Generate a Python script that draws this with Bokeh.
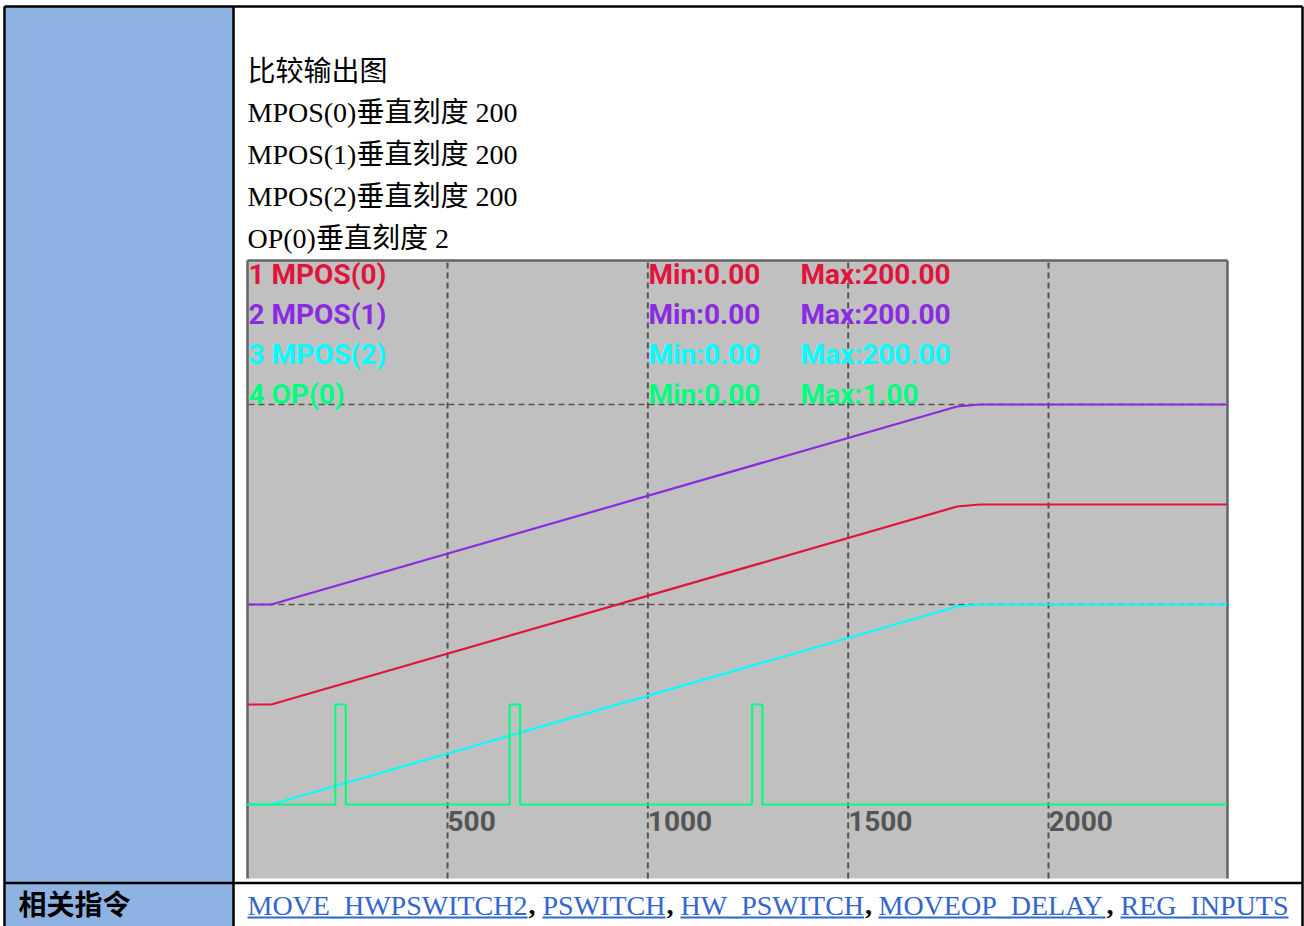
from bokeh.plotting import figure
from bokeh.models import Range1d
from bokeh.core.properties import value
from bokeh.embed import file_html
from bokeh.resources import INLINE

# ---------------- data ----------------
title_lines = ["比较输出图", "MPOS(0)垂直刻度 200", "MPOS(1)垂直刻度 200",
               "MPOS(2)垂直刻度 200", "OP(0)垂直刻度 2"]
series_names = ["1 MPOS(0)", "2 MPOS(1)", "3 MPOS(2)", "4 OP(0)"]
series_min = ["Min:0.00", "Min:0.00", "Min:0.00", "Min:0.00"]
series_max = ["Max:200.00", "Max:200.00", "Max:200.00", "Max:1.00"]
vertical_scale = [200, 200, 200, 2]
x_ticks = [500, 1000, 1500, 2000]
x_tick_labels = ["500", "1000", "1500", "2000"]

t_mpos = [0, 60, 1772, 1828, 2445]
mpos0 = [0, 0, 198, 200, 200]
mpos1 = [0, 0, 198, 200, 200]
mpos2 = [0, 0, 198, 200, 200]
t_op = [0, 220, 246, 655, 681, 1260, 1286, 2445]
op0 = [0, 1, 0, 1, 0, 1, 0, 0]

related_label = "相关指令"
related_links = ["MOVE_HWPSWITCH2", "PSWITCH", "HW_PSWITCH", "MOVEOP_DELAY", "REG_INPUTS"]

# ---------------- layout / style ----------------
W, H = 1304, 926
X0, Y0 = 0, 0
BLUE_CELL = "#8EB3E2"
SERIF = value("Liberation Serif, Noto Sans CJK SC")
CHART_FONT = value("Roboto")
colors = ["#E0143C", "#8A2BE2", "#00FFFF", "#00FF80"]
div_offset = [0.5, 1.0, 0.0, 0.0]  # display offset of each trace, in divisions
PARA_DY, LINK_DY, ROBOTO_DY, CJK_DY = -3, -7, -10, -9   # baseline corrections

# chart geometry (page pixels)
C_LEFT, C_RIGHT, C_TOP, C_BOTTOM = 247, 1227, 260, 878
X_ZERO_PX, PX_PER_UNIT = 246.7, 0.40065
BASE_PX, DIV_PX = 804, 200

p = figure(width=W, height=H, output_backend="svg", toolbar_location=None,
           x_range=Range1d(X0, X0 + W), y_range=Range1d(Y0 + H, Y0),
           min_border=0, background_fill_color="white", border_fill_color="white")
p.axis.visible = False
p.grid.visible = False
p.outline_line_color = None

p.extra_x_ranges = {"chart": Range1d((X0 - X_ZERO_PX) / PX_PER_UNIT,
                                     (X0 + W - X_ZERO_PX) / PX_PER_UNIT)}
p.extra_y_ranges = {"div": Range1d((BASE_PX - (Y0 + H)) / DIV_PX,
                                   (BASE_PX - Y0) / DIV_PX)}

# ---------------- table ----------------
p.quad(left=[5], right=[233], top=[6], bottom=[Y0 + H], fill_color=BLUE_CELL, line_color=None)
bw = 2.5
p.segment(x0=[4, 4, 1302, 233, 4], y0=[6, 6, 6, 6, 882.5],
          x1=[1302, 4, 1302, 233, 1302], y1=[6, Y0 + H, Y0 + H, Y0 + H, 882.5],
          line_color="black", line_width=bw)

p.text(x=[247] * len(title_lines), y=[b + PARA_DY for b in [74, 115, 157, 199, 241]],
       text=title_lines, text_font=SERIF, text_font_size="28px", text_color="black",
       text_baseline="alphabetic", text_align="left")

# ---------------- chart ----------------
p.quad(left=[C_LEFT], right=[C_RIGHT], top=[C_TOP], bottom=[C_BOTTOM],
       fill_color="#C0C0C0", line_color=None)
p.segment(x0=[C_LEFT, C_LEFT, C_RIGHT], y0=[C_TOP, C_TOP, C_TOP],
          x1=[C_RIGHT, C_LEFT, C_RIGHT], y1=[C_TOP, C_BOTTOM, C_BOTTOM],
          line_color="#646464", line_width=2.5)

chart_x_max = (C_RIGHT - X_ZERO_PX) / PX_PER_UNIT
div_top = (BASE_PX - C_TOP) / DIV_PX
div_bottom = (BASE_PX - C_BOTTOM) / DIV_PX
grid_col = "#555555"
p.segment(x0=x_ticks, x1=x_ticks, y0=[div_bottom] * 4, y1=[div_top - 0.01] * 4,
          x_range_name="chart", y_range_name="div",
          line_color=grid_col, line_width=2, line_dash="6 4")
hdivs = [1, 2]
p.segment(x0=[(C_LEFT + 1 - X_ZERO_PX) / PX_PER_UNIT] * 2, x1=[chart_x_max - 1] * 2,
          y0=hdivs, y1=hdivs, x_range_name="chart", y_range_name="div",
          line_color=grid_col, line_width=1.6, line_dash="6 4")

mpos_series = [mpos0, mpos1, mpos2]
for i in [2, 0, 1]:
    ys = [v / vertical_scale[i] + div_offset[i] for v in mpos_series[i]]
    p.line(t_mpos, ys, x_range_name="chart", y_range_name="div",
           line_color=colors[i], line_width=2.2)
op_y = [v / vertical_scale[3] + div_offset[3] for v in op0]
p.step(t_op, op_y, mode="after", x_range_name="chart", y_range_name="div",
       line_color=colors[3], line_width=2.2)

leg_y = [283.5 + 40 * i + ROBOTO_DY for i in range(4)]
for xs, labels in ((248, series_names), (648, series_min), (800, series_max)):
    p.text(x=[xs] * 4, y=leg_y, text=labels, text_color=colors,
           text_font=CHART_FONT, text_font_style="bold", text_font_size="28px",
           text_baseline="alphabetic", text_align="left")

p.text(x=x_ticks, y=[830 + ROBOTO_DY] * 4, text=x_tick_labels, x_range_name="chart",
       text_font=CHART_FONT, text_font_style="bold", text_font_size="28px",
       text_color="#555555", text_baseline="alphabetic", text_align="left")

# ---------------- bottom row ----------------
p.text(x=[18], y=[911 + CJK_DY], text=[related_label], text_font=value("Noto Sans CJK SC"),
       text_font_style="bold", text_font_size="28px", text_color="black",
       text_baseline="alphabetic", text_align="left")

link_x = [247, 542, 680, 878, 1120]
link_w = [280, 123, 183.5, 227, 168]
p.text(x=link_x, y=[911.5 + LINK_DY] * 5, text=related_links, text_font=SERIF,
       text_font_size="28px", text_color="#3366CC",
       text_baseline="alphabetic", text_align="left")
p.segment(x0=link_x, x1=[a + b for a, b in zip(link_x, link_w)],
          y0=[917] * 5, y1=[917] * 5, line_color="#3366CC", line_width=2)
p.text(x=[a + b + 1 for a, b in zip(link_x[:-1], link_w[:-1])], y=[911.5 + LINK_DY] * 4,
       text=[","] * 4, text_font=SERIF, text_font_style="bold",
       text_font_size="28px", text_color="black",
       text_baseline="alphabetic", text_align="left")

open("out.html", "w").write(file_html(p, INLINE))
